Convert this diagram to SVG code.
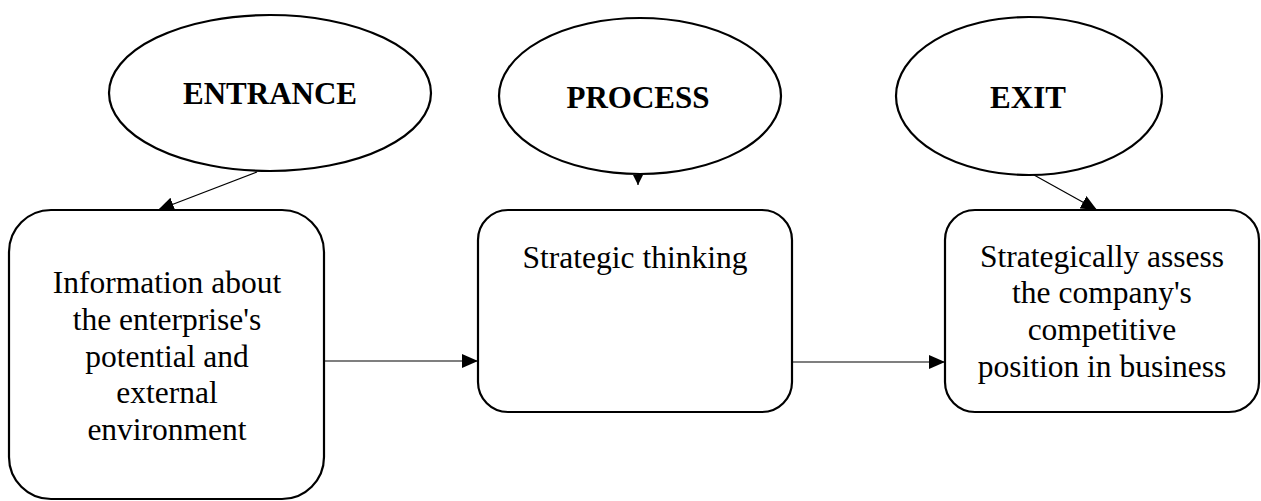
<svg xmlns="http://www.w3.org/2000/svg" width="1261" height="501" viewBox="0 0 1261 501">
<style>
.shape{fill:#fff;stroke:#000;stroke-width:2.2}
.title{font-family:"Liberation Serif",serif;font-weight:bold;font-size:31px;text-anchor:middle;fill:#000}
.body{font-family:"Liberation Serif",serif;font-size:31.5px;text-anchor:middle;fill:#000}
.conn{stroke:#000;stroke-width:1.2;fill:none;marker-end:url(#ah)}
.conn-s{stroke:#000;stroke-width:1.2;fill:none;marker-end:url(#ahs)}
</style>
<defs>
<marker id="ah" markerUnits="userSpaceOnUse" markerWidth="16" markerHeight="14" refX="16" refY="7" orient="auto">
<path d="M0,0 L16,7 L0,14 z" fill="#000"/>
</marker>
<marker id="ahs" markerUnits="userSpaceOnUse" markerWidth="10" markerHeight="10" refX="10" refY="5" orient="auto">
<path d="M0,0 L10,5 L0,10 z" fill="#000"/>
</marker>
</defs>
<rect width="1261" height="501" fill="#fff"/>
<g id="entrance">
<ellipse class="shape" cx="270" cy="93" rx="161" ry="78"/>
<text class="title" x="270" y="104">ENTRANCE</text>
</g>
<g id="process">
<ellipse class="shape" cx="640" cy="96" rx="141" ry="78"/>
<text class="title" x="638" y="108">PROCESS</text>
</g>
<g id="exit">
<ellipse class="shape" cx="1029" cy="96" rx="133" ry="79"/>
<text class="title" x="1028" y="108">EXIT</text>
</g>
<g id="info">
<rect class="shape" x="9" y="210" width="315" height="289" rx="42" ry="42"/>
<text class="body" x="167" y="293">Information about</text>
<text class="body" x="167" y="330">the enterprise's</text>
<text class="body" x="167" y="367">potential and</text>
<text class="body" x="167" y="403">external</text>
<text class="body" x="167" y="440">environment</text>
</g>
<g id="thinking">
<rect class="shape" x="478" y="210" width="314" height="202" rx="30" ry="30"/>
<text class="body" x="635" y="268">Strategic thinking</text>
</g>
<g id="assess">
<rect class="shape" x="945" y="210" width="314" height="202" rx="30" ry="30"/>
<text class="body" x="1102" y="267">Strategically assess</text>
<text class="body" x="1102" y="303">the company's</text>
<text class="body" x="1102" y="340">competitive</text>
<text class="body" x="1102" y="377">position in business</text>
</g>
<g id="connectors">
<line class="conn" x1="257" y1="172" x2="158" y2="210"/>
<line class="conn-s" x1="638" y1="174" x2="638" y2="185"/>
<line class="conn" x1="1034" y1="175" x2="1097" y2="210"/>
<line class="conn" x1="325" y1="361" x2="478" y2="361"/>
<line class="conn" x1="793" y1="362" x2="945" y2="362"/>
</g>
</svg>
